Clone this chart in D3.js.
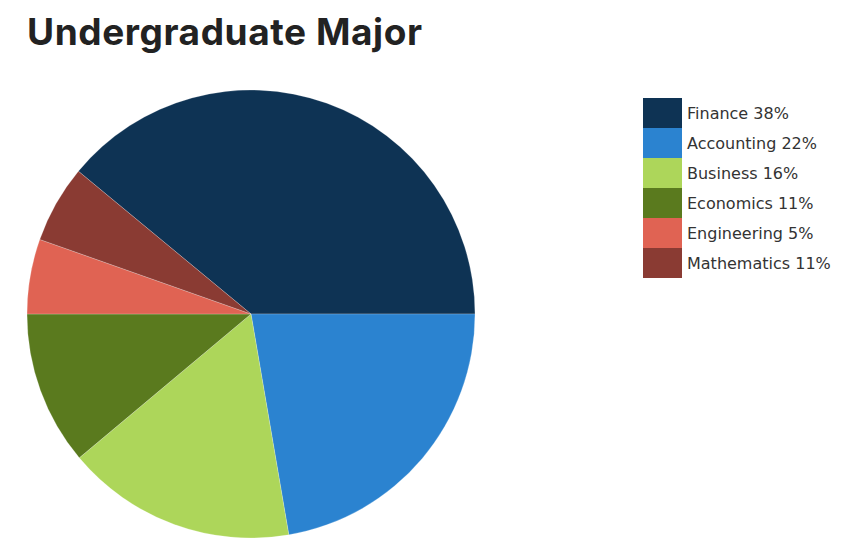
<!DOCTYPE html>
<html><head><meta charset="utf-8">
<script src="https://cdn.jsdelivr.net/npm/d3@7"></script>
<style>body{margin:0;background:#fff}svg{display:block}</style>
</head><body>
<script>
const categories = ["Finance","Accounting","Business","Economics","Engineering","Mathematics"];
const values = [39, 22.3, 16.6, 11.1, 5.4, 5.6];
const legendLabels = ["Finance 38%","Accounting 22%","Business 16%","Economics 11%","Engineering 5%","Mathematics 11%"];
const colors = ["#0e3354","#2b83d0","#add65a","#5a7a1e","#e06353","#8a3b33"];

const W = 864, H = 550;
const svg = d3.select("body").append("svg").attr("width", W).attr("height", H);

svg.append("text").attr("x", 27).attr("y", 45)
  .attr("font-family", "Inter, Roboto, sans-serif").attr("font-weight", 700)
  .attr("font-size", 37).attr("fill", "#222")
  .attr("textLength", 395).attr("lengthAdjust", "spacing")
  .text("Undergraduate Major");

const data = categories.map((c, i) => ({c, v: values[i], col: colors[i]}));
const total = d3.sum(values);
const start = Math.PI / 2 - values[0] / total * 2 * Math.PI;
const pie = d3.pie().value(d => d.v).sort(null).startAngle(start).endAngle(start + 2 * Math.PI);
const arc = d3.arc().innerRadius(0).outerRadius(224);
const g = svg.append("g").attr("transform", "translate(251,314)");
g.selectAll("path").data(pie(data)).join("path")
  .attr("d", arc).attr("fill", d => d.data.col)
  .attr("stroke", "rgba(255,255,255,0.35)").attr("stroke-width", 0.6);

const y = d3.scaleBand().domain(categories).range([98, 278]).padding(0);
const lg = svg.append("g");
lg.selectAll("rect").data(data).join("rect")
  .attr("x", 643).attr("y", d => y(d.c)).attr("width", 39).attr("height", y.bandwidth())
  .attr("fill", d => d.col);
lg.selectAll("text").data(data).join("text")
  .attr("x", 687).attr("y", d => y(d.c) + y.bandwidth() / 2 + 6)
  .attr("font-family", "DejaVu Sans, Verdana, sans-serif").attr("font-size", 16)
  .attr("fill", "#333")
  .text((d, i) => legendLabels[i]);
</script>
</body></html>
